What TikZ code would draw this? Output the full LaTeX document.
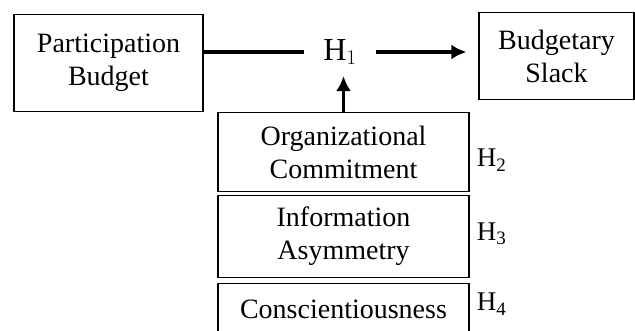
\documentclass[tikz,border=0pt]{standalone}
\usepackage{fontspec}
\usetikzlibrary{arrows.meta}
\setmainfont{Liberation Serif}
\newcommand{\hlow}[1]{H\raisebox{-0.35ex}{\fontsize{19}{19}\selectfont #1}}
\begin{document}
\begin{tikzpicture}[x=1pt,y=-1pt,>={Latex[length=15pt,width=15pt]},line join=miter,
  box/.style={draw,line width=1.2pt,align=center,inner sep=0pt,font=\fontsize{28}{33}\selectfont},
  link/.style={line width=3.5pt},
  hyp/.style={anchor=west,inner sep=0pt,font=\fontsize{27}{33}\selectfont}]
%%
  \useasboundingbox (0,0) rectangle (635,331);
  \node (budget) at (108.5,63) [box,minimum width=189,minimum height=97] {Participation\\Budget};
  \node (slack) at (556.5,56) [box,minimum width=155,minimum height=87] {Budgetary\\Slack};
  \node (h1) at (340,52) [inner xsep=19pt,inner ysep=11pt,font=\fontsize{32}{32}\selectfont] {H$_1$};
  \node (commit) at (343.5,152) [box,minimum width=251,minimum height=79] {Organizational\\Commitment};
  \node (asym) at (343.5,236.5) [box,minimum width=251,minimum height=82] {Information\\Asymmetry};
  \node (consc) at (343.5,309) [box,minimum width=251,minimum height=51] {Conscientiousness};
  \node (h2) at ([xshift=7pt]commit.east |- 0,160) [hyp] {\hlow{2}};
  \node (h3) at ([xshift=7pt]asym.east |- 0,234) [hyp] {\hlow{3}};
  \node (h4) at ([xshift=7pt]consc.east |- 0,304) [hyp] {\hlow{4}};

  \draw [link] (budget.east |- h1.west) -- (h1.west);
  \draw [link,->,shorten >=12pt] (h1.east) -- (slack.west |- h1.east);
  \draw [link,->] (commit.north) -- (commit.north |- h1.south);
%
\end{tikzpicture}
\end{document}
